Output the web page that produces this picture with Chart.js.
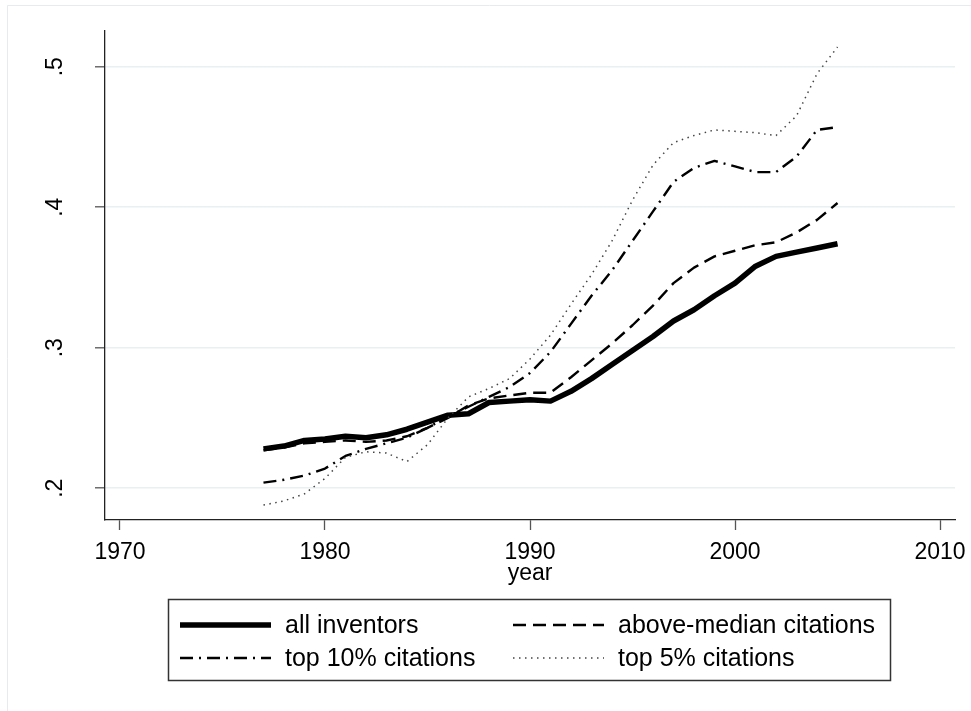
<!DOCTYPE html>
<html>
<head>
<meta charset="utf-8">
<script src="https://cdn.jsdelivr.net/npm/chart.js@4.4.1/dist/chart.umd.min.js"></script>
<style>
  html, body { margin: 0; padding: 0; background: #fff; }
  #wrap { width: 971px; height: 711px; }
</style>
</head>
<body>
<div id="wrap"><canvas id="shareChart" width="971" height="711"></canvas></div>
<script>
    "use strict";

    // data
    var years = [1977, 1978, 1979, 1980, 1981, 1982, 1983, 1984, 1985, 1986,
                 1987, 1988, 1989, 1990, 1991, 1992, 1993, 1994, 1995, 1996,
                 1997, 1998, 1999, 2000, 2001, 2002, 2003, 2004, 2005];
    var allInventors = [.228, .230, .234, .235, .237, .236, .238, .242, .247, .252,
                        .253, .261, .262, .263, .262, .269, .278, .288, .298, .308,
                        .319, .327, .337, .346, .358, .365, .368, .371, .374];
    var aboveMedian = [.227, .229, .232, .233, .234, .233, .234, .237, .243, .250,
                       .259, .264, .266, .268, .268, .279, .291, .303, .316, .330,
                       .346, .357, .365, .369, .373, .375, .382, .391, .403];
    var top10 = [.204, .206, .209, .214, .223, .228, .232, .236, .243, .251,
                 .258, .265, .272, .282, .297, .317, .337, .355, .376, .397,
                 .418, .428, .433, .429, .425, .425, .436, .455, .457];
    var top5 = [.188, .191, .196, .207, .222, .226, .225, .219, .231, .250,
                .265, .271, .278, .292, .309, .331, .352, .376, .405, .430,
                .446, .451, .455, .454, .453, .451, .465, .495, .514];

    var xTicks = [1970, 1980, 1990, 2000, 2010];
    var yTicks = [0.2, 0.3, 0.4, 0.5];
    var yTickLabels = ['.2', '.3', '.4', '.5'];

    var seriesNames = ['all inventors', 'above-median citations', 'top 10% citations', 'top 5% citations'];

    function points(vals) {
        return years.map(function (yr, i) { return { x: yr, y: vals[i] }; });
    }

    var FONT = '"Liberation Sans", Arial, Helvetica, sans-serif';

    // light frame of the graph region
    var frame = {
        id: 'frame',
        beforeDraw: function (chart) {
            var ctx = chart.ctx;
            ctx.save();
            ctx.fillStyle = '#fff';
            ctx.fillRect(0, 0, chart.width, chart.height);
            ctx.strokeStyle = '#e4eced';
            ctx.lineWidth = 1;
            ctx.beginPath();
            ctx.moveTo(7.5, chart.height);
            ctx.lineTo(7.5, 5.5);
            ctx.lineTo(chart.width, 5.5);
            ctx.stroke();
            ctx.restore();
        }
    };

    // Stata style legend box under the plot
    var legendBox = {
        id: 'legendBox',
        afterDraw: function (chart) {
            var ctx = chart.ctx;
            var cells = [[180, 625], [513, 625], [180, 658], [513, 658]];
            ctx.save();
            ctx.strokeStyle = '#333';
            ctx.lineWidth = 1.5;
            ctx.strokeRect(168.5, 599.5, 722, 81);
            ctx.font = '25px ' + FONT;
            ctx.textBaseline = 'middle';
            ctx.textAlign = 'left';
            ctx.fillStyle = '#000';
            chart.data.datasets.forEach(function (ds, i) {
                var c = cells[i];
                ctx.beginPath();
                ctx.setLineDash(ds.borderDash || []);
                ctx.lineWidth = ds.borderWidth;
                ctx.strokeStyle = ds.borderColor;
                ctx.lineCap = 'butt';
                ctx.moveTo(c[0], c[1]);
                ctx.lineTo(c[0] + 91, c[1]);
                ctx.stroke();
                ctx.setLineDash([]);
                ctx.fillText(ds.label, c[0] + 105, c[1] + 1);
            });
            ctx.restore();
        }
    };

    var ctx = document.getElementById('shareChart');
    var myChart = new Chart(ctx, {
        type: 'line',
        data: {
            datasets: [{
                label: seriesNames[0],
                data: points(allInventors),
                borderColor: '#000',
                borderWidth: 5.5,
                order: 4
            }, {
                label: seriesNames[1],
                data: points(aboveMedian),
                borderColor: '#000',
                borderWidth: 2.4,
                borderDash: [13, 7],
                order: 3
            }, {
                label: seriesNames[2],
                data: points(top10),
                borderColor: '#000',
                borderWidth: 2.4,
                borderDash: [13, 6, 2, 6],
                order: 2
            }, {
                label: seriesNames[3],
                data: points(top5),
                borderColor: '#444',
                borderWidth: 1.5,
                borderDash: [1.5, 4.5],
                order: 1
            }]
        },
        options: {
            responsive: false,
            animation: false,
            events: [],
            elements: {
                point: { radius: 0 },
                line: { tension: 0, fill: false, borderJoinStyle: 'round' }
            },
            layout: {
                padding: { top: 31, right: 16, bottom: 111, left: 0 }
            },
            plugins: {
                legend: { display: false },
                tooltip: { enabled: false }
            },
            scales: {
                x: {
                    type: 'linear',
                    min: 1969.27,
                    max: 2010.73,
                    afterBuildTicks: function (scale) {
                        scale.ticks = xTicks.map(function (v) { return { value: v }; });
                    },
                    afterFit: function (scale) {
                        scale.height = 80;
                        scale.paddingLeft = 0;
                        scale.paddingRight = 0;
                    },
                    grid: {
                        display: true,
                        drawOnChartArea: false,
                        drawTicks: true,
                        tickLength: 10,
                        tickColor: '#555',
                        tickWidth: 1.3
                    },
                    border: { display: true, color: '#222', width: 1.3 },
                    ticks: {
                        color: '#000',
                        padding: 9,
                        maxRotation: 0,
                        font: { family: FONT, size: 23 },
                        callback: function (v) { return String(v); }
                    },
                    title: {
                        display: true,
                        text: 'year',
                        color: '#000',
                        font: { family: FONT, size: 23, lineHeight: 1.2 },
                        padding: { top: 0, bottom: 13 }
                    }
                },
                y: {
                    type: 'linear',
                    min: 0.1774,
                    max: 0.5254,
                    afterBuildTicks: function (scale) {
                        scale.ticks = yTicks.map(function (v) { return { value: v }; });
                    },
                    afterFit: function (scale) {
                        scale.width = 105;
                        scale.paddingTop = 0;
                        scale.paddingBottom = 0;
                    },
                    grid: {
                        display: true,
                        drawOnChartArea: true,
                        color: '#e8f0f2',
                        lineWidth: 1.6,
                        drawTicks: true,
                        tickLength: 10,
                        tickColor: '#555',
                        tickWidth: 1.3
                    },
                    border: { display: true, color: '#222', width: 1.3 },
                    ticks: {
                        color: '#000',
                        padding: 30,
                        minRotation: 90,
                        maxRotation: 90,
                        crossAlign: 'center',
                        font: { family: FONT, size: 23 },
                        callback: function (v, i) { return yTickLabels[i]; }
                    }
                }
            }
        },
        plugins: [frame, legendBox]
    });
</script>
</body>
</html>
